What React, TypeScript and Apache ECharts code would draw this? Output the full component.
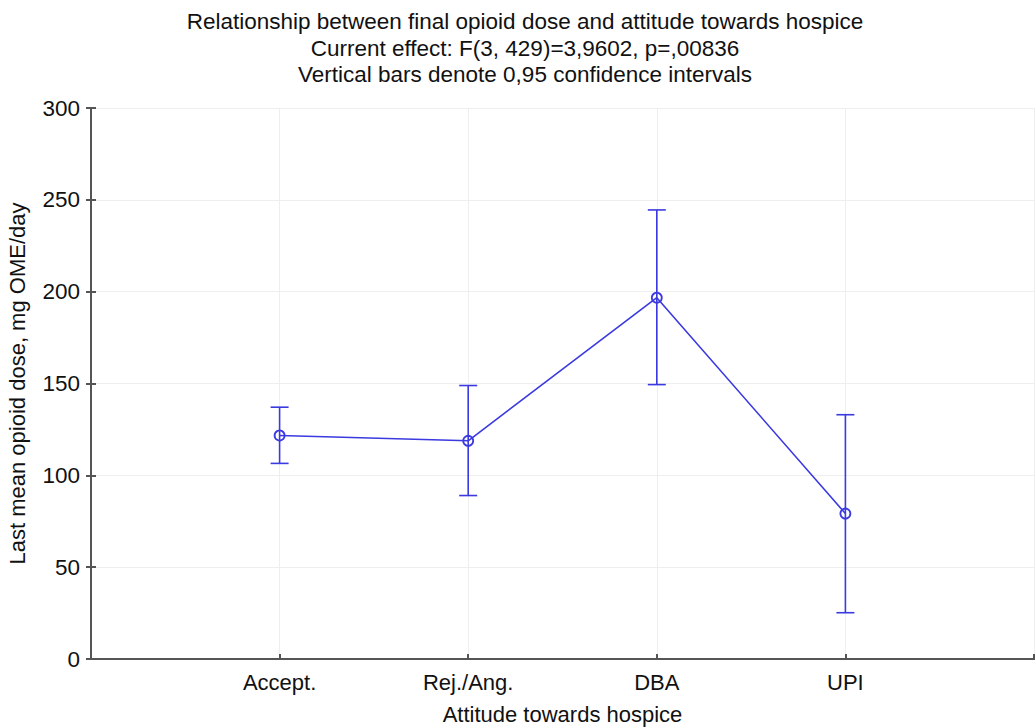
import React, { useEffect, useRef } from "react";
import * as echarts from "echarts";

const categories = ["Accept.", "Rej./Ang.", "DBA", "UPI"];
const means = [121.7, 118.8, 196.7, 79.2];
const upper = [137.1, 148.9, 244.5, 133.0];
const lower = [106.5, 89.0, 149.4, 25.2];
const titleLines = [
  "Relationship between final opioid dose and attitude towards hospice",
  "Current effect: F(3, 429)=3,9602, p=,00836",
  "Vertical bars denote 0,95 confidence intervals",
];

const BLUE = "#3a3ae0";
const AXIS = "#555555";
const FONT = "Liberation Sans, Arial, sans-serif";

export default function App() {
  const ref = useRef<HTMLDivElement>(null);
  useEffect(() => {
    if (!ref.current) return;
    const chart = echarts.init(ref.current, null, { renderer: "svg" });
    const lineData = means.map((m, i) => [i + 1, m]);
    const errData = means.map((_, i) => [i + 1, lower[i], upper[i]]);
    chart.setOption({
      animation: false,
      backgroundColor: "#ffffff",
      title: titleLines.map((t, i) => ({
        text: t,
        left: 520,
        textAlign: "center",
        top: 5 + i * 26.5,
        textStyle: { fontFamily: FONT, fontSize: 22.5, fontWeight: "normal", color: "#111" },
      })),
      grid: {
        left: 91,
        right: 1,
        top: 108,
        bottom: 69,
        containLabel: false,
        outerBoundsMode: "none",
      },
      xAxis: [
        {
          type: "value",
          min: 0,
          max: 5,
          interval: 1,
          name: "Attitude towards hospice",
          nameLocation: "middle",
          nameGap: 44,
          nameTextStyle: { fontFamily: FONT, fontSize: 22, color: "#111" },
          axisLine: { show: true, lineStyle: { color: AXIS, width: 2 } },
          axisTick: { show: true, inside: true, length: 5, lineStyle: { color: AXIS, width: 2 } },
          axisLabel: {
            fontFamily: FONT,
            fontSize: 22,
            color: "#111",
            margin: 12,
            formatter: (v: number) => (v >= 1 && v <= 4 ? categories[v - 1] : ""),
          },
          splitLine: { show: true, lineStyle: { color: "#eeeeee", width: 1 } },
        },
        {
          type: "value",
          position: "top",
          min: 0,
          max: 5,
          interval: 1,
          axisLine: { show: true, lineStyle: { color: AXIS, width: 2 } },
          axisTick: { show: false },
          axisLabel: { show: false },
          splitLine: { show: false },
        },
      ],
      yAxis: [
        {
          type: "value",
          min: 0,
          max: 300,
          interval: 50,
          name: "Last mean opioid dose, mg OME/day",
          nameLocation: "middle",
          nameGap: 63,
          nameRotate: 90,
          nameTextStyle: { fontFamily: FONT, fontSize: 22, color: "#111" },
          axisLine: { show: true, lineStyle: { color: AXIS, width: 2 } },
          axisTick: { show: true, inside: true, length: 5, lineStyle: { color: AXIS, width: 2 } },
          axisLabel: { fontFamily: FONT, fontSize: 22.5, color: "#111", margin: 11 },
          splitLine: { show: true, lineStyle: { color: "#eeeeee", width: 1 } },
        },
        {
          type: "value",
          position: "right",
          min: 0,
          max: 300,
          interval: 50,
          axisLine: { show: true, lineStyle: { color: AXIS, width: 2 } },
          axisTick: { show: true, inside: true, length: 5, lineStyle: { color: AXIS, width: 2 } },
          axisLabel: { show: false },
          splitLine: { show: false },
        },
      ],
      series: [
        {
          type: "custom",
          xAxisIndex: 0,
          yAxisIndex: 0,
          data: errData,
          z: 3,
          renderItem: (params: any, api: any) => {
            const x = api.value(0);
            const lo = api.coord([x, api.value(1)]);
            const hi = api.coord([x, api.value(2)]);
            const hw = 9;
            const style = { stroke: BLUE, lineWidth: 1.6 };
            return {
              type: "group",
              children: [
                { type: "line", shape: { x1: lo[0], y1: lo[1], x2: hi[0], y2: hi[1] }, style },
                { type: "line", shape: { x1: hi[0] - hw, y1: hi[1], x2: hi[0] + hw, y2: hi[1] }, style },
                { type: "line", shape: { x1: lo[0] - hw, y1: lo[1], x2: lo[0] + hw, y2: lo[1] }, style },
              ],
            };
          },
        },
        {
          type: "line",
          xAxisIndex: 0,
          yAxisIndex: 0,
          data: lineData,
          z: 4,
          symbol: "circle",
          symbolSize: 10,
          lineStyle: { color: BLUE, width: 1.6 },
          itemStyle: { color: "transparent", borderColor: BLUE, borderWidth: 1.8 },
        },
      ],
    });
    return () => chart.dispose();
  }, []);
  return (
    <div
      ref={ref}
      style={{ position: "fixed", left: 0, top: 0, width: 1035, height: 728, background: "#fff" }}
    />
  );
}
